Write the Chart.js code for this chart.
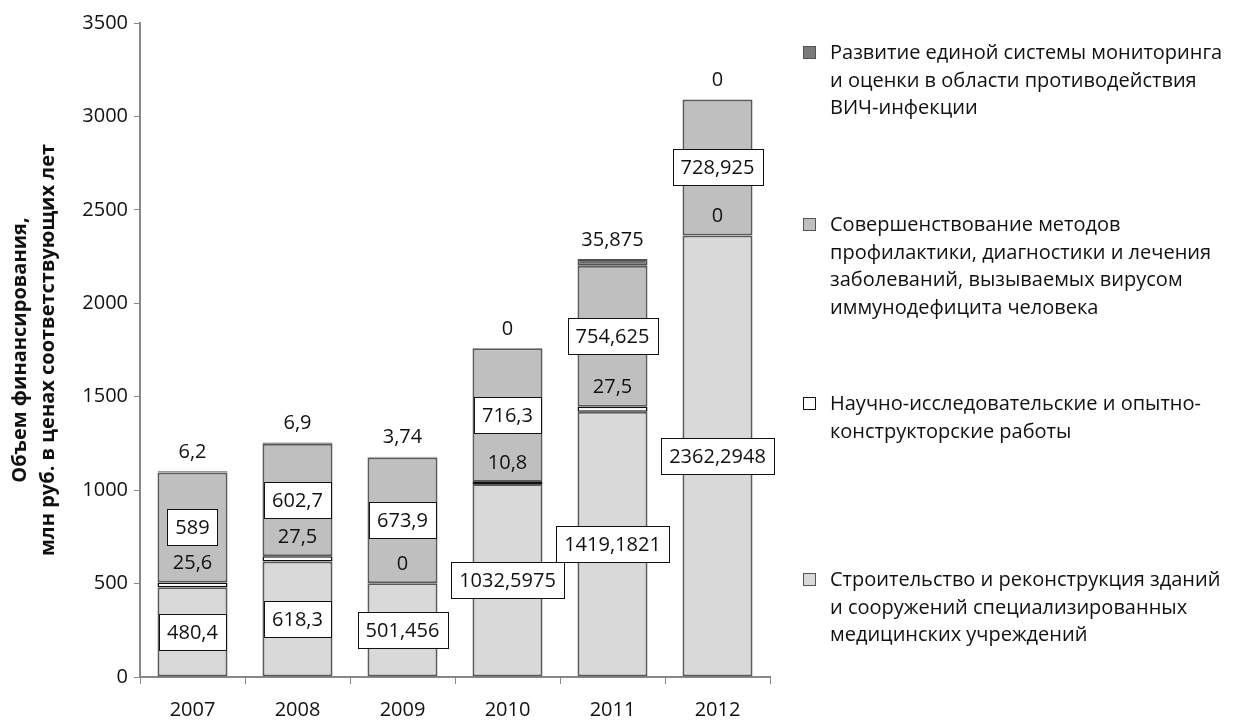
<!DOCTYPE html>
<html lang="ru">
<head>
<meta charset="utf-8">
<script src="https://cdn.jsdelivr.net/npm/chart.js@4.4.1/dist/chart.umd.min.js"></script>
<style>
    html, body { margin: 0; padding: 0; background: #fff; }
    #wrap { position: relative; width: 1234px; height: 722px; }
    #legend { position: absolute; left: 803px; top: 0; font-family: "Open Sans", sans-serif; font-size: 20px; color: #111; }
    .item { position: absolute; left: 0; width: 430px; line-height: 27.5px; padding-left: 27px; white-space: nowrap; }
    .item span.box { position: absolute; left: 0; top: 8px; width: 11px; height: 11px; border: 1.5px solid #555; }
</style>
</head>
<body>
<div id="wrap">
    <canvas id="financeChart" width="1234" height="722"></canvas>
    <div id="legend">
        <div class="item" style="top:38px"><span class="box" style="background:#7a7a7a"></span>Развитие единой системы мониторинга<br>и оценки в области противодействия<br>ВИЧ-инфекции</div>
        <div class="item" style="top:210px"><span class="box" style="background:#bfbfbf"></span>Совершенствование методов<br>профилактики, диагностики и лечения<br>заболеваний, вызываемых вирусом<br>иммунодефицита человека</div>
        <div class="item" style="top:389px"><span class="box" style="background:#fff; border-color:#111"></span>Научно-исследовательские и опытно-<br>конструкторские работы</div>
        <div class="item" style="top:565px"><span class="box" style="background:#d9d9d9"></span>Строительство и реконструкция зданий<br>и сооружений специализированных<br>медицинских учреждений</div>
    </div>
</div>
<script>
const years = ['2007', '2008', '2009', '2010', '2011', '2012'];
const construction = [480.4, 618.3, 501.456, 1032.5975, 1419.1821, 2362.2948];
const research = [25.6, 27.5, 0, 10.8, 27.5, 0];
const prevention = [589, 602.7, 673.9, 716.3, 754.625, 728.925];
const monitoring = [6.2, 6.9, 3.74, 0, 35.875, 0];
const yTicks = [0, 500, 1000, 1500, 2000, 2500, 3000, 3500];

const FONT = '"Open Sans", sans-serif';

function fmt(v) {
    return String(v).replace('.', ',');
}

// draws value labels: boxed ones centered in segment, plain ones above segment top
const valueLabels = {
    id: 'valueLabels',
    afterDatasetsDraw(chart) {
        const ctx = chart.ctx;
        ctx.save();
        ctx.font = '20px ' + FONT;
        ctx.textAlign = 'center';
        ctx.textBaseline = 'middle';
        chart.data.datasets.forEach((ds, i) => {
            const meta = chart.getDatasetMeta(i);
            meta.data.forEach((bar, j) => {
                const text = fmt(ds.data[j]);
                if (ds.boxed) {
                    const cy = (bar.y + bar.base) / 2;
                    const w = ctx.measureText(text).width + 16;
                    const h = 36;
                    ctx.fillStyle = '#fff';
                    ctx.fillRect(bar.x - w / 2, cy - h / 2, w, h);
                    ctx.strokeStyle = '#111';
                    ctx.lineWidth = 1;
                    ctx.strokeRect(Math.round(bar.x - w / 2) + 0.5, Math.round(cy - h / 2) + 0.5, Math.round(w), h);
                    ctx.fillStyle = '#111';
                    ctx.fillText(text, bar.x, cy + 1);
                } else {
                    ctx.fillStyle = '#111';
                    ctx.fillText(text, bar.x, bar.y - 19);
                }
            });
        });
        ctx.restore();
    }
};

new Chart(document.getElementById('financeChart'), {
    type: 'bar',
    data: {
        labels: years,
        datasets: [
            { label: 'Строительство', data: construction, backgroundColor: '#d9d9d9', borderColor: '#5a5a5a', borderWidth: 2, boxed: true },
            { label: 'НИОКР', data: research, backgroundColor: '#fff', borderColor: '#111', borderWidth: 1.5 },
            { label: 'Совершенствование', data: prevention, backgroundColor: '#bfbfbf', borderColor: '#5a5a5a', borderWidth: 2, boxed: true },
            { label: 'Развитие', data: monitoring, backgroundColor: '#6f6f6f', borderColor: '#505050', borderWidth: 2 }
        ]
    },
    options: {
        responsive: false,
        animation: false,
        layout: { padding: { top: 23, right: 464, left: 0, bottom: 0 } },
        datasets: {
            bar: { categoryPercentage: 1, barPercentage: 0.667, borderSkipped: false }
        },
        plugins: {
            legend: { display: false },
            tooltip: { enabled: false }
        },
        scales: {
            x: {
                stacked: true,
                grid: { drawOnChartArea: false, drawTicks: true, tickLength: 7, color: '#888', offset: true },
                border: { color: '#888', width: 2 },
                ticks: { color: '#111', font: { family: FONT, size: 20 }, padding: 14 },
                afterFit(scale) { scale.height = 45; }
            },
            y: {
                stacked: true,
                min: 0,
                max: 3500,
                afterBuildTicks(scale) { scale.ticks = yTicks.map(v => ({ value: v })); },
                grid: { drawOnChartArea: false, drawTicks: true, tickLength: 6, color: '#888' },
                border: { color: '#888', width: 2 },
                ticks: { color: '#111', font: { family: FONT, size: 20 }, padding: 6, callback: v => String(v) },
                title: {
                    display: true,
                    text: ['Объем финансирования,', 'млн руб. в ценах соответствующих лет'],
                    color: '#111',
                    font: { family: FONT, size: 20, weight: 'bold', lineHeight: 1.4 },
                    padding: { top: 6, bottom: 0 }
                },
                afterFit(scale) { scale.width = 140; }
            }
        }
    },
    plugins: [valueLabels]
});
</script>
</body>
</html>
